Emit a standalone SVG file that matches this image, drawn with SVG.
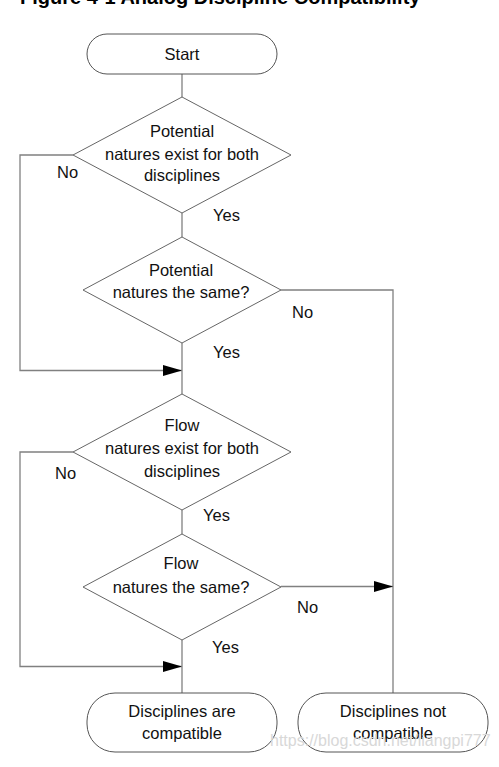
<svg xmlns="http://www.w3.org/2000/svg" width="499" height="767" viewBox="0 0 499 767">
<style>
text{font-family:"Liberation Sans",Arial,sans-serif;font-size:16.5px;fill:#111}
.t{text-anchor:middle}
.title{font-size:20px;font-weight:bold;fill:#000}
.node{fill:#fff;stroke:#555;stroke-width:1}
.dia{fill:#fff;stroke:#666;stroke-width:1}
.conn{fill:none;stroke:#808080;stroke-width:1.3}
.wm{fill:#d8d8d8;font-size:16px}
</style>
<defs>
<marker id="arr" markerUnits="userSpaceOnUse" markerWidth="20" markerHeight="12" refX="19" refY="5.5" orient="auto">
<path d="M0,0 L19,5.5 L0,11 z" fill="#000"/>
</marker>
</defs>
<text class="title" x="20" y="4">Figure 4-1  Analog Discipline Compatibility</text>
<g id="connectors">
<path class="conn" d="M182,74 V97"/>
<path class="conn" d="M182,213 V237"/>
<path class="conn" d="M73,155 H20 V370.5 H182" marker-end="url(#arr)"/>
<path class="conn" d="M182,343 V394"/>
<path class="conn" d="M281,290 H393 V693"/>
<path class="conn" d="M182,510 V534"/>
<path class="conn" d="M73,452 H20 V666.5 H182" marker-end="url(#arr)"/>
<path class="conn" d="M182,640 V693"/>
<path class="conn" d="M281,586.5 H393" marker-end="url(#arr)"/>
<text x="57" y="178">No</text>
<text x="213" y="221">Yes</text>
<text x="292" y="318">No</text>
<text x="213" y="358">Yes</text>
<text x="55" y="479">No</text>
<text x="203" y="521">Yes</text>
<text x="297" y="613">No</text>
<text x="212" y="653">Yes</text>
</g>
<g id="start">
<rect class="node" x="87" y="34" width="190" height="40" rx="20" ry="20"/>
<text class="t" x="182" y="60">Start</text>
</g>
<g id="d1">
<polygon class="dia" points="182,97 291,155 182,213 73,155"/>
<text class="t" x="182" y="137">Potential</text>
<text class="t" x="182" y="160">natures exist for both</text>
<text class="t" x="182" y="181">disciplines</text>
</g>
<g id="d2">
<polygon class="dia" points="182,237 281,290 182,343 83,290"/>
<text class="t" x="181" y="276">Potential</text>
<text class="t" x="181" y="298">natures the same?</text>
</g>
<g id="d3">
<polygon class="dia" points="182,394 291,452 182,510 73,452"/>
<text class="t" x="182" y="431">Flow</text>
<text class="t" x="182" y="454">natures exist for both</text>
<text class="t" x="182" y="477">disciplines</text>
</g>
<g id="d4">
<polygon class="dia" points="182,534 281,587 182,640 83,587"/>
<text class="t" x="181" y="569">Flow</text>
<text class="t" x="181" y="593">natures the same?</text>
</g>
<g id="compatible">
<rect class="node" x="87" y="693" width="190" height="59" rx="28" ry="28"/>
<text class="t" x="182" y="717">Disciplines are</text>
<text class="t" x="182" y="739">compatible</text>
</g>
<g id="notcompatible">
<rect class="node" x="298" y="693" width="190" height="59" rx="28" ry="28"/>
<text class="t" x="393" y="717">Disciplines not</text>
<text class="t" x="393" y="739">compatible</text>
</g>
<text class="wm" x="270" y="746">https://blog.csdn.net/liangpi777</text>
</svg>
